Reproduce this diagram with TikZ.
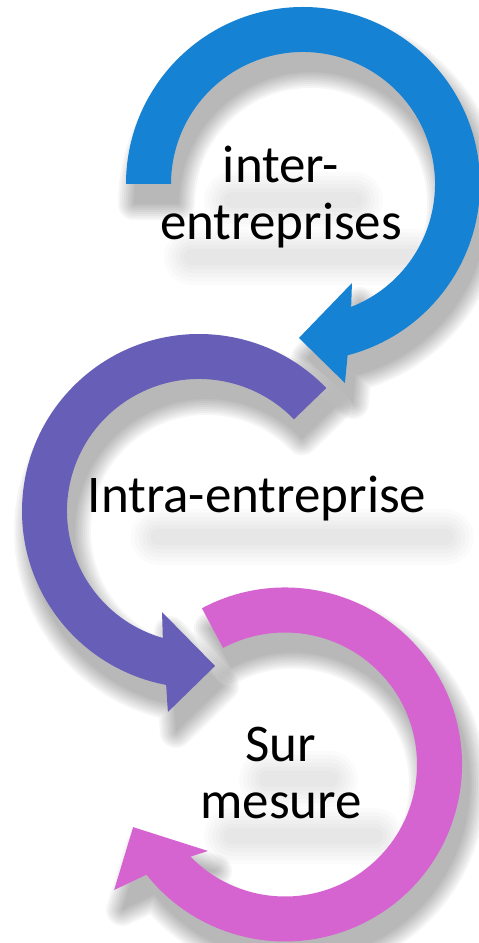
\documentclass[tikz,border=0pt]{standalone}
\usepackage{fontspec}
\setmainfont{Carlito}
\usetikzlibrary{backgrounds,calc}

\definecolor{interblue}{RGB}{22,130,211}
\definecolor{intrapurple}{RGB}{103,94,183}
\definecolor{surpink}{RGB}{213,100,209}

\tikzset{
  ringtext/.style={font=\fontsize{53}{57}\selectfont, align=center, anchor=base, inner sep=0pt},
  ringshadow/.style={fill=black, draw=black, line join=round},
}

% ring of radii 177/132: start angle, outer end, inner end, outer barb, tip, inner barb
\newcommand{\cyclepath}[6]{(#1:177) arc[start angle=#1, end angle=#2, radius=177]
  -- (#4) -- (#5) -- (#6) -- (#3:132) arc[start angle=#3, end angle=#1, radius=132] -- cycle}

% colour, centre, then the six values of \cyclepath
\newcommand{\cyclearrow}[8]{%
  \begin{scope}[shift={(#2)}]
    \foreach \w in {32,28,...,4,0.1}
      {\begin{scope}[transparency group, opacity=0.034, xshift=8pt, yshift=-20pt]
        \path[ringshadow, line width=\w] \cyclepath{#3}{#4}{#5}{#6}{#7}{#8};
      \end{scope}}
    \fill[#1] \cyclepath{#3}{#4}{#5}{#6}{#7}{#8};
  \end{scope}}

% soft haze under a line of text: lower left, upper right
\newcommand{\texthaze}[2]{%
  \foreach \w in {44,36,28,20,12,4}
    {\begin{scope}[transparency group, opacity=0.017]
      \path[ringshadow, line width=\w, rounded corners=6pt] #1 rectangle #2;
    \end{scope}}}

\begin{document}
\begin{tikzpicture}[x=1pt,y=1pt]
  \useasboundingbox (0,0) rectangle (479,943);

  \cyclearrow{interblue}{303,759}{180}{-75.4}{-68.6}{-78.1:203.4}{-91.5:154}{-63.7:110.5}
  \cyclearrow{intrapurple}{199,432}{44}{259.3}{254.1}{261.2:203.4}{275.9:155.8}{249.9:107.6}
  \cyclearrow{surpink}{285,178.5}{118}{-141.5}{-135.7}{-143.7:212}{-157.6:164.3}{-131.7:115.8}

  \node[ringtext] (inter) at (281,703) {inter-\\entreprises};
  \node[ringtext] (intra) at (257,430) {Intra-entreprise};
  \node[ringtext] (sur) at (281,124) {Sur\\mesure};

  \begin{scope}[on background layer]
    \texthaze{($(inter.base)+(-55,34)$)}{($(inter.base)+(80,46)$)}
    \texthaze{($(inter.base)+(-95,-23)$)}{($(inter.base)+(140,-11)$)}
    \texthaze{($(intra.base west)+(65,-30)$)}{($(intra.base east)+(25,-18)$)}
    \texthaze{($(sur.base)+(-20,34)$)}{($(sur.base)+(55,46)$)}
    \texthaze{($(sur.base)+(-55,-23)$)}{($(sur.base)+(100,-11)$)}
  \end{scope}
\end{tikzpicture}
\end{document}
